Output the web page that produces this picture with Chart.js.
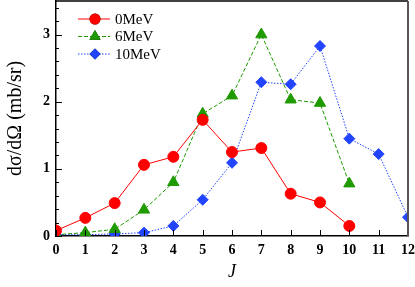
<!DOCTYPE html>
<html>
<head>
<meta charset="utf-8">
<script src="https://cdn.jsdelivr.net/npm/chart.js@4/dist/chart.umd.min.js"></script>
<style>
  html, body { margin: 0; padding: 0; background: #fff; }
  #wrap { width: 415px; height: 287px; }
</style>
</head>
<body>
<div id="wrap"><canvas id="chart" width="415" height="287"></canvas></div>
<script>
const jValues = [0, 1, 2, 3, 4, 5, 6, 7, 8, 9, 10, 11, 12];
const seriesLabels = ["0MeV", "6MeV", "10MeV"];
const mev0 = [0.08, 0.27, 0.49, 1.06, 1.18, 1.73, 1.25, 1.31, 0.63, 0.50, 0.15];
const mev6 = [0.02, 0.05, 0.10, 0.39, 0.80, 1.82, 2.09, 3.00, 2.03, 1.98, 0.78];
const mev10 = [0.02, 0.02, 0.03, 0.05, 0.15, 0.54, 1.09, 2.29, 2.26, 2.83, 1.45, 1.22, 0.28];
const yTickLabels = [0, 1, 2, 3];

const RED = "#ff0000", GREEN = "#1f9a00", BLUE = "#2244ff";
const serif = "'Liberation Serif', 'DejaVu Serif', serif";

const pts = (arr) => arr.map((v, i) => ({ x: jValues[i], y: v }));

// inside ticks, box and the line+marker legend
const framePlugin = {
  id: "frame",
  afterDraw(chart) {
    const { ctx, chartArea: a, scales } = chart;
    ctx.save();
    ctx.strokeStyle = "#000";
    ctx.lineWidth = 1;
    ctx.beginPath();
    for (let v = 0; v <= 3.5; v += 0.2) {
      const y = Math.round(scales.y.getPixelForValue(v)) + 0.5;
      const isMajor = Math.abs(v - Math.round(v)) < 0.01;
      ctx.moveTo(a.left, y);
      ctx.lineTo(a.left + (isMajor ? 6 : 3), y);
    }
    jValues.forEach((j) => {
      const x = Math.round(scales.x.getPixelForValue(j)) + 0.5;
      ctx.moveTo(x, a.bottom);
      ctx.lineTo(x, a.bottom - 6);
    });
    ctx.stroke();
    // box
    ctx.lineWidth = 1.5;
    ctx.beginPath();
    ctx.moveTo(a.left, a.top);
    ctx.lineTo(a.right, a.top);
    ctx.stroke();
    ctx.strokeStyle = "#555";
    ctx.lineWidth = 2;
    ctx.beginPath();
    ctx.moveTo(a.right, a.top);
    ctx.lineTo(a.right, a.bottom);
    ctx.stroke();

    // legend
    chart.data.datasets.forEach((ds, i) => {
      const y = 19 + i * 17.5;
      ctx.strokeStyle = ds.borderColor;
      ctx.lineWidth = 1;
      ctx.setLineDash(ds.borderDash || []);
      ctx.beginPath();
      ctx.moveTo(78, y);
      ctx.lineTo(110, y);
      ctx.stroke();
      ctx.setLineDash([]);
      Chart.helpers.drawPoint(ctx, {
        pointStyle: ds.pointStyle, radius: ds.pointRadius, rotation: 0, borderWidth: 0
      }, 95, y);
      ctx.fillStyle = ds.pointBackgroundColor;
      ctx.fill();
      ctx.fillStyle = "#000";
      ctx.font = "15px " + serif;
      ctx.textBaseline = "middle";
      ctx.fillText(ds.label, 115, y + 1);
    });
    ctx.restore();
  }
};

new Chart(document.getElementById("chart"), {
  type: "line",
  data: {
    datasets: [
      { label: seriesLabels[0], data: pts(mev0), borderColor: RED, pointBackgroundColor: RED,
        pointBorderColor: RED, pointStyle: "circle", pointRadius: 5.5, borderWidth: 1 },
      { label: seriesLabels[1], data: pts(mev6), borderColor: GREEN, pointBackgroundColor: GREEN,
        pointBorderColor: GREEN, pointStyle: "triangle", pointRadius: 6.5, borderWidth: 1, borderDash: [4, 2] },
      { label: seriesLabels[2], data: pts(mev10), borderColor: BLUE, pointBackgroundColor: BLUE,
        pointBorderColor: BLUE, pointStyle: "rectRot", pointRadius: 5.5, borderWidth: 1, borderDash: [1.5, 1.5] },
    ],
  },
  options: {
    responsive: false,
    animation: false,
    layout: { autoPadding: false, padding: { top: 1, right: 7, left: 0, bottom: 0 } },
    plugins: { legend: { display: false }, tooltip: { enabled: false } },
    elements: { point: { borderWidth: 0 }, line: { tension: 0 } },
    scales: {
      x: {
        type: "linear", min: 0, max: 12,
        afterFit: (s) => { s.height = 51; s.paddingLeft = 0; s.paddingRight = 0; },
        afterBuildTicks: (s) => { s.ticks = jValues.map((v) => ({ value: v })); },
        grid: { display: false, drawTicks: false },
        border: { color: "#000", width: 1.5 },
        ticks: { color: "#000", padding: 6, font: { family: serif, size: 14, weight: "bold" }, maxRotation: 0 },
        title: { display: true, text: "J", color: "#000", padding: { top: 5 },
          font: { family: serif, size: 18, style: "italic" } },
      },
      y: {
        min: 0, max: 3.5,
        afterFit: (s) => { s.width = 56; s.paddingTop = 0; s.paddingBottom = 0; },
        afterBuildTicks: (s) => { s.ticks = yTickLabels.map((v) => ({ value: v })); },
        grid: { display: false, drawTicks: false },
        border: { color: "#000", width: 1.5 },
        ticks: { color: "#000", padding: 6, font: { family: serif, size: 14, weight: "bold" } },
        title: { display: true, text: "dσ/dΩ (mb/sr)", color: "#000", padding: { bottom: 2 },
          font: { family: serif, size: 20 } },
      },
    },
  },
  plugins: [framePlugin],
});
</script>
</body>
</html>
